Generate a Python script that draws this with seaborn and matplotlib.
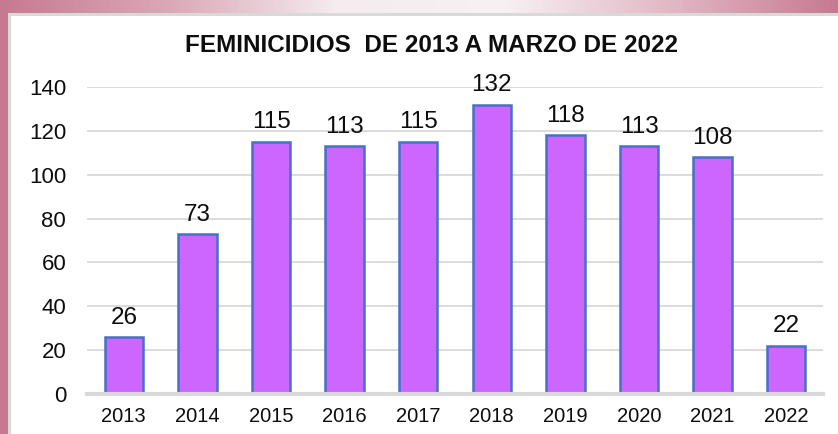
import numpy as np
import pandas as pd
import matplotlib
matplotlib.use("Agg")
import matplotlib.pyplot as plt
import seaborn as sns
from matplotlib.colors import LinearSegmentedColormap
from matplotlib.patches import Rectangle

# data
years = ["2013", "2014", "2015", "2016", "2017", "2018", "2019", "2020", "2021", "2022"]
cases = [26, 73, 115, 113, 115, 132, 118, 113, 108, 22]
y_ticks = [0, 20, 40, 60, 80, 100, 120, 140]
title = "FEMINICIDIOS  DE 2013 A MARZO DE 2022"

df = pd.DataFrame({"year": years, "cases": cases})

sns.set_theme(style="white")
plt.rcParams["font.family"] = ["Liberation Sans", "DejaVu Sans"]

W, H = 838, 434
fig = plt.figure(figsize=(W / 100, H / 100), dpi=100)
fig.patch.set_facecolor("white")

# background frame: pink gradient strip on top, pink strip left, grey border
bg = fig.add_axes([0, 0, 1, 1])
bg.set_xlim(0, W)
bg.set_ylim(H, 0)
bg.axis("off")
pink = LinearSegmentedColormap.from_list(
    "pk", ["#c67a92", "#dba8b8", "#f4ecef", "#f7f1f3", "#e2b8c5", "#c67a92"])
grad = np.linspace(0, 1, 400).reshape(1, -1)
bg.imshow(grad, cmap=pink, extent=[0, W, 13, 0], aspect="auto", zorder=0)
bg.add_patch(Rectangle((0, 13), 8, H - 13, facecolor="#c67a92", edgecolor="none", zorder=1))
bg.add_patch(Rectangle((8, 13), W - 8, 2.5, facecolor="#d9d9d9", edgecolor="none", zorder=2))
bg.add_patch(Rectangle((8, 13), 2.5, H - 13, facecolor="#d9d9d9", edgecolor="none", zorder=2))

# main chart
ax = fig.add_axes([87 / W, (H - 394) / H, 736 / W, 307 / H])
ax.set_facecolor("none")
sns.barplot(data=df, x="year", y="cases", order=years, color="#cc66ff",
            edgecolor="#4472c4", linewidth=1.8, width=0.52, saturation=1, ax=ax, zorder=3)

ax.set_ylim(0, 140)
ax.set_yticks(y_ticks)
ax.yaxis.grid(True, color="#d9d9d9", linewidth=1.3, zorder=0)
ax.set_axisbelow(True)
for s in ["top", "right", "left"]:
    ax.spines[s].set_visible(False)
ax.spines["bottom"].set_color("#d9d9d9")
ax.spines["bottom"].set_linewidth(3)
ax.spines["bottom"].set_zorder(4)
ax.tick_params(axis="y", length=0, pad=15, labelsize=16, labelcolor="#0d0d0d")
ax.tick_params(axis="x", length=0, pad=9, labelsize=14.5, labelcolor="#0d0d0d")
ax.set_xlabel("")
ax.set_ylabel("")

for c in ax.containers:
    labels = ax.bar_label(c, padding=6, fontsize=17.5, color="#0d0d0d")
    for t in labels:
        t.set_clip_on(False)

fig.text(431 / W, 1 - 45 / H, title, ha="center", va="center",
         fontsize=17.5, fontweight="bold", color="#0d0d0d")

fig.savefig("out.png", dpi=100)
